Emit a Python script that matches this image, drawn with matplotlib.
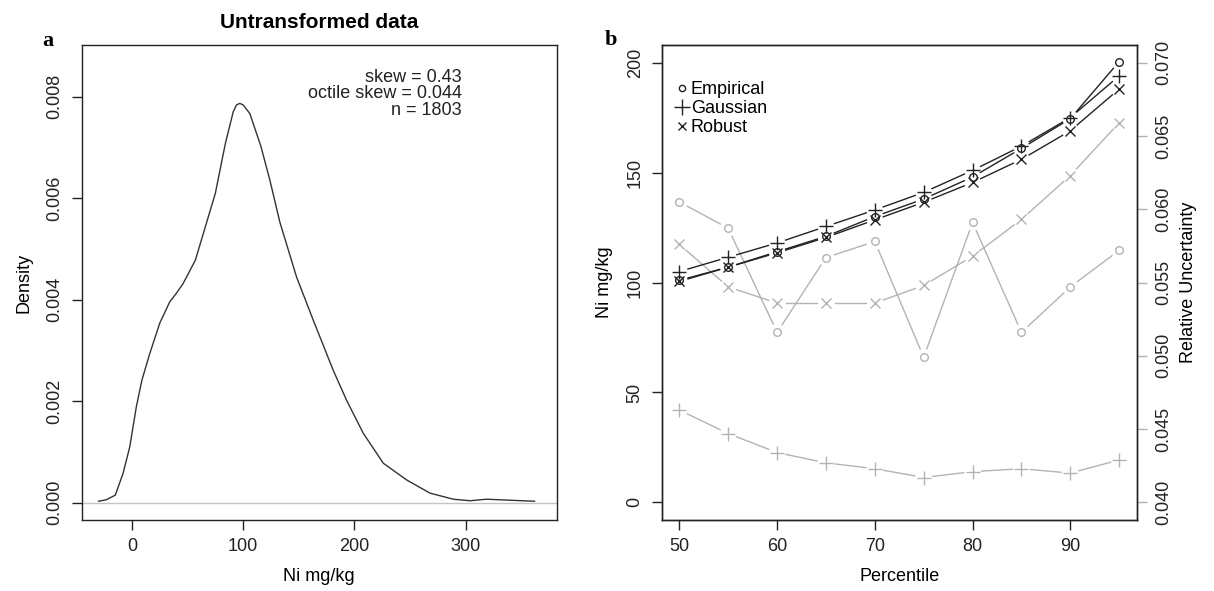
import matplotlib
matplotlib.use("Agg")
import matplotlib.pyplot as plt
from matplotlib.lines import Line2D
from matplotlib.ticker import FormatStrFormatter
import numpy as np

# --- data ---
# panel a: kernel density of Ni (mg/kg)
ni_x = [-30, -23, -15, -8, -2, 4, 9, 16, 25, 34, 40, 46, 57, 66, 75, 84, 91,
        94, 97, 100, 106, 116, 124, 133, 148, 163, 181, 193, 208, 226, 247,
        268, 289, 304, 319, 340, 362]
ni_density = [0.00003, 0.00006, 0.00015, 0.00058, 0.0011, 0.0019, 0.00242,
              0.00294, 0.00354, 0.00396, 0.00413, 0.00432, 0.00478, 0.00544,
              0.0061, 0.00708, 0.0077, 0.00784, 0.00787, 0.00784, 0.00767,
              0.00702, 0.00636, 0.00553, 0.00445, 0.0036, 0.00261, 0.00202,
              0.00137, 0.00078, 0.00045, 0.00019, 0.00007, 0.00004, 0.00007,
              0.00005, 0.00003]
stats_lines = ["skew = 0.43", "octile skew = 0.044", "n = 1803"]

# panel b: percentile estimates (left axis) and relative uncertainty (right axis)
percentile = [50, 55, 60, 65, 70, 75, 80, 85, 90, 95]
est_empirical = [101, 107, 114, 121, 130, 138, 148, 161, 174.5, 200.5]
est_gaussian = [105, 111.5, 118, 125.5, 133, 141, 151, 162, 175, 194]
est_robust = [100.5, 107, 113.5, 120.5, 128.5, 136.5, 145.5, 156, 169, 188]
unc_empirical = [0.0605, 0.0587, 0.0516, 0.0567, 0.0578, 0.0499, 0.0591,
                 0.0516, 0.0547, 0.0572]
unc_gaussian = [0.0463, 0.0447, 0.0434, 0.0427, 0.0423, 0.0417, 0.0421,
                0.0423, 0.0420, 0.0429]
unc_robust = [0.0576, 0.0547, 0.0536, 0.0536, 0.0536, 0.0548, 0.0568,
              0.0593, 0.0623, 0.0659]
legend_labels = ["Empirical", "Gaussian", "Robust"]

plt.rcParams["font.family"] = ["Liberation Sans", "DejaVu Sans"]
plt.rcParams["font.size"] = 13

INK = "#222222"
GREY = "#b3b3b3"


def style_axes(ax):
    for s in ax.spines.values():
        s.set_color(INK)
        s.set_linewidth(1.0)
    ax.tick_params(direction="out", length=7, width=1, colors=INK,
                   labelsize=13, pad=6)
    ax.tick_params(axis="y", labelrotation=90)
    for lab in ax.get_yticklabels():
        lab.set_va("center")


def plot_b(ax, x, y, color, marker, ms, gap=9, lw=1.0):
    """R type='b': markers with line segments that stop short of them"""
    ax.plot(x, y, linestyle="none", marker=marker, ms=ms, mfc="none",
            mec=color, mew=1.0)
    pts = ax.transData.transform(np.column_stack([x, y]))
    inv = ax.transData.inverted()
    for p0, p1 in zip(pts[:-1], pts[1:]):
        d = p1 - p0
        length = np.hypot(*d)
        if length <= 2 * gap:
            continue
        u = d / length
        seg = inv.transform(np.array([p0 + u * gap, p1 - u * gap]))
        ax.plot(seg[:, 0], seg[:, 1], color=color, lw=lw)


fig = plt.figure(figsize=(12.14, 5.91), dpi=100)
ax1 = fig.add_axes([0.0673, 0.1201, 0.3913, 0.8037])
ax2 = fig.add_axes([0.5451, 0.1201, 0.3913, 0.8037])
ax3 = ax2.twinx()
ax3.set_position([0.5451, 0.1201, 0.3913, 0.8037])

# %% panel a
ax1.set_xlim(-45.2, 382)
ax1.set_ylim(-0.00034, 0.00902)
ax1.axhline(0, color="#c4c4c4", lw=1.0)
ax1.plot(ni_x, ni_density, color="#333333", lw=1.0)
ax1.set_xticks([0, 100, 200, 300])
ax1.set_yticks([0, 0.002, 0.004, 0.006, 0.008])
ax1.yaxis.set_major_formatter(FormatStrFormatter("%.3f"))
style_axes(ax1)
ax1.set_xlabel("Ni mg/kg", labelpad=9)
ax1.set_ylabel("Density", labelpad=10)
ax1.set_title("Untransformed data", fontweight="bold", fontsize=15, pad=12.5)
for i, line in enumerate(stats_lines):
    ax1.text(0.80, 0.9227 - i * 0.0351, line, transform=ax1.transAxes,
             ha="right", va="baseline", fontsize=13, color=INK)

# %% panel b
ax2.set_xlim(48.2, 96.8)
ax2.set_ylim(-8, 208)
ax3.set_ylim(0.0388, 0.0712)
ax2.set_xticks([50, 60, 70, 80, 90])
ax2.set_yticks([0, 50, 100, 150, 200])
ax3.set_yticks([0.040, 0.045, 0.050, 0.055, 0.060, 0.065, 0.070])
ax3.yaxis.set_major_formatter(FormatStrFormatter("%.3f"))

plot_b(ax3, percentile, unc_empirical, GREY, "o", 5.5)
plot_b(ax3, percentile, unc_gaussian, GREY, "+", 10)
plot_b(ax3, percentile, unc_robust, GREY, "x", 7)
plot_b(ax2, percentile, est_empirical, INK, "o", 5.5)
plot_b(ax2, percentile, est_gaussian, INK, "+", 10)
plot_b(ax2, percentile, est_robust, INK, "x", 7)
ax2.set_zorder(ax3.get_zorder() + 1)
ax2.patch.set_visible(False)

style_axes(ax2)
style_axes(ax3)
ax3.tick_params(axis="y", colors=GREY, labelcolor=INK)
for lab in ax3.get_yticklabels():
    lab.set_va("center")
ax2.set_xlabel("Percentile", labelpad=9)
ax2.set_ylabel("Ni mg/kg", labelpad=10)
ax3.set_ylabel("Relative Uncertainty", labelpad=6)

handles = [
    Line2D([], [], ls="none", marker="o", ms=4.5, mfc="none", mec=INK),
    Line2D([], [], ls="none", marker="+", ms=11, mec=INK, mew=1.0),
    Line2D([], [], ls="none", marker="x", ms=6, mec=INK, mew=1.0),
]
ax2.legend(handles, legend_labels, loc="upper left",
           bbox_to_anchor=(0.0, 0.955), frameon=False, handlelength=0.6,
           handletextpad=0.2, labelspacing=0.12, borderpad=0.3,
           fontsize=13)

fig.text(0.039, 0.922, "a", fontfamily="Liberation Serif",
         fontweight="bold", fontsize=16, ha="center", va="baseline")
fig.text(0.503, 0.924, "b", fontfamily="Liberation Serif",
         fontweight="bold", fontsize=16, ha="center", va="baseline")

fig.savefig("out.png", dpi=100)
